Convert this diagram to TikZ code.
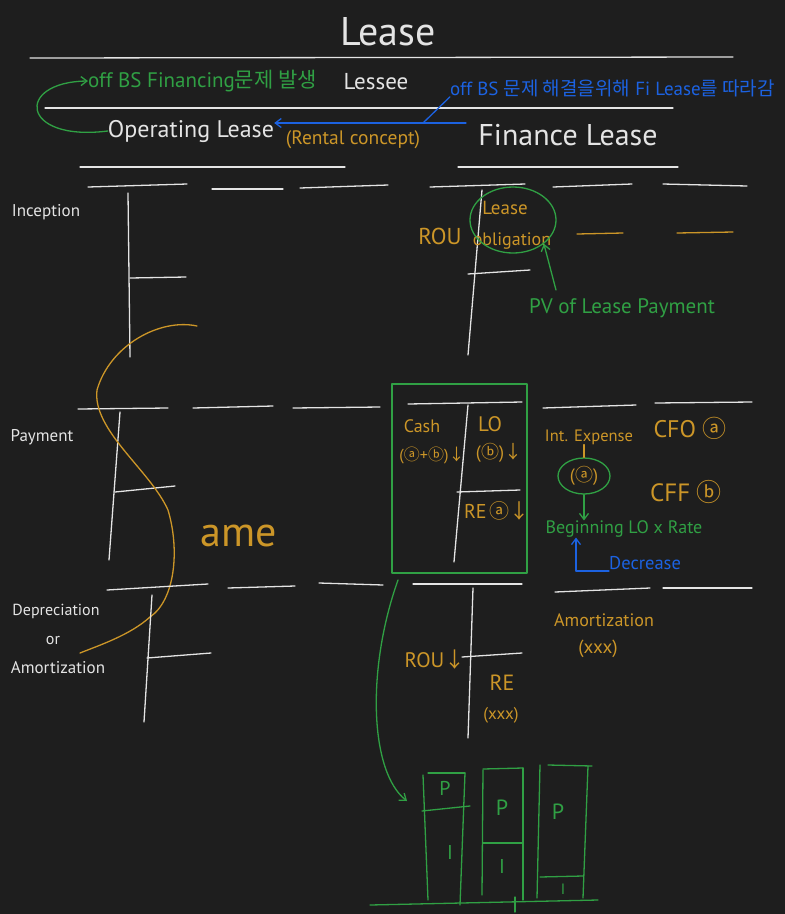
\documentclass[tikz,border=0pt]{standalone}
\usepackage{fontspec}
\setmainfont{PT Sans}
\newfontfamily\kr{Noto Sans CJK KR}
\usetikzlibrary{arrows.meta,shapes.geometric}
\definecolor{bg}{RGB}{30,30,30}
\definecolor{wt}{RGB}{228,228,228}
\definecolor{og}{RGB}{204,150,40}
\definecolor{gn}{RGB}{48,160,68}
\definecolor{bl}{RGB}{28,98,225}
\newcommand\myDown{{\kr ↓}}
\newcommand\circA{{\kr ⓐ}}
\newcommand\circB{{\kr ⓑ}}
\begin{document}
\begin{tikzpicture}[x=1pt,y=-1pt,
  stroke/.style={line width=1.3pt, line cap=round, line join=round},
  wl/.style={stroke, draw=wt},
  ol/.style={stroke, draw=og},
  gl/.style={stroke, draw=gn},
  bll/.style={stroke, draw=bl},
  tip/.style={-{Straight Barb[length=6pt,width=9pt]}},
  fs/.style={font=\fontsize{#1}{#1}\selectfont},
  wtxt/.style={text=wt, inner sep=0pt},
  otxt/.style={text=og, inner sep=0pt},
  gtxt/.style={text=gn, inner sep=0pt},
  btxt/.style={text=bl, inner sep=0pt}]
\fill[bg] (0,0) rectangle (785,914);
\useasboundingbox (0,0) rectangle (785,914);

% ---------- header ----------
\node[wtxt, fs=40] (title) at (388,32) {Lease};
\draw[wl] (30,58) -- (733,57);
\node[gtxt, fs=21, anchor=west] (offbs) at (88,81) {off BS Financing\kr 문제 발생};
\node[wtxt, fs=23] (lessee) at (376,82) {Lessee};
\node[btxt, fs=19, anchor=west] (fix) at (450,88) {off BS {\kr 문제 해결을위해} Fi Lease{\kr 를 따라감}};
\draw[wl] (45,108) -- (673,108);
\node[wtxt, fs=24] (op) at (191,131) {Operating Lease};
\node[otxt, fs=19.5] (rent) at (353,140) {(Rental concept)};
\node[wtxt, fs=30] (fin) at (568,135) {Finance Lease};
\draw[wl] (80,167) -- (345,167);
\draw[wl] (458,167) -- (678,167);

\coordinate (fa) at (466,123);
\coordinate (bmid) at (423,123);
\draw[bll, tip] (fa) -- (op.east |- fa);
\draw[bll] (bmid) -- (fix.south west);
\draw[gl, tip] (op.west) .. controls (20,142) and (15,82) .. (offbs.west);

% ---------- Inception ----------
\node[wtxt, fs=17] (inc) at (46,212) {Inception};
\draw[wl] (88,187) -- (187,184);
\draw[wl] (212,189) -- (283,189);
\draw[wl] (300,188) -- (388,185);
\draw[wl] (128,193) -- (130,357);
\draw[wl] (130,278) -- (186,277);
\draw[wl] (430,187) -- (525,184);
\draw[wl] (553,187) -- (632,184);
\draw[wl] (663,184) -- (747,186);
\draw[wl] (482,190) -- (468,355);
\draw[wl] (468,274) -- (530,270);
\node[otxt, fs=23] (rou1) at (440,236) {ROU};
\node[otxt, fs=19] (lease1) at (505,208) {Lease};
\node[otxt, fs=18] (oblig) at (512,241) {obligation};
\node[draw=gn, line width=1.3pt, ellipse, minimum width=86pt, minimum height=66pt, inner sep=0pt] (loell) at (513,220) {};
\draw[ol] (577,234) -- (623,233);
\draw[ol] (677,233) -- (733,232);
\node[gtxt, fs=21] (pv) at (622,308) {PV of Lease Payment};
\coordinate (pvs) at (556,290);
\draw[gl, tip] (pvs) -- (loell.south east);

% ---------- Payment ----------
\node[wtxt, fs=17] (pay) at (42,437) {Payment};
\draw[wl] (78,409) -- (168,408);
\draw[wl] (193,408) -- (273,406);
\draw[wl] (293,408) -- (380,407);
\draw[wl] (120,412) -- (109,560);
\draw[wl] (115,492) -- (175,486);
\draw[gl] (392,384) rectangle (527,573);
\draw[wl] (408,404) -- (522,402);
\draw[wl] (468,405) -- (454,562);
\draw[wl] (457,492) -- (520,490);
\draw[wl] (543,408) -- (636,405);
\draw[wl] (655,403) -- (752,402);
\node[otxt, fs=18] (cash) at (422,426) {Cash};
\node[otxt, fs=16] (cashab) at (432,455) {(\circA+\circB)\myDown};
\node[otxt, fs=21] (lo) at (490,424) {LO};
\node[otxt, fs=18] (lob) at (499,453) {(\circB)\myDown};
\node[otxt, fs=20] (rea) at (497,511) {RE\,\circA\myDown};
\node[otxt, fs=16.5] (intexp) at (589,437) {Int. Expense};
\node[otxt, fs=24] (cfo) at (690,428) {CFO \circA};
\node[otxt, fs=18] (aa) at (584,476) {(\circA)};
\node[draw=gn, line width=1.3pt, ellipse, minimum width=52pt, minimum height=36pt, inner sep=0pt] (aell) at (584,476) {};
\draw[ol] (intexp.south -| aell.north) -- (aell.north);
\node[gtxt, fs=18] (begin) at (624,529) {Beginning LO x Rate};
\draw[gl, tip] (aell.south) -- (begin.north -| aell.south);
\node[otxt, fs=25] (cff) at (686,492) {CFF \circB};
\node[btxt, fs=18.5, anchor=west] (dec) at (609,563) {Decrease};
\coordinate (decc) at (576,571);
\draw[bll] (dec.west |- decc) -- (decc);
\draw[bll, tip] (decc) -- (begin.south -| decc);

\node[otxt, fs=42] (ame) at (239,536) {ame};
\draw[ol] (197,326) .. controls (160,318) and (110,345) .. (97,390)
  .. controls (92,430) and (150,470) .. (168,510)
  .. controls (180,550) and (175,600) .. (150,617)
  .. controls (130,635) and (100,645) .. (80,653);

% ---------- Depreciation ----------
\node[wtxt, fs=16] (dep) at (56,611) {Depreciation};
\node[wtxt, fs=16] (or) at (53,640) {or};
\node[wtxt, fs=17] (amo) at (58,668) {Amortization};
\draw[wl] (107,590) -- (208,584);
\draw[wl] (228,588) -- (295,586);
\draw[wl] (319,583) -- (383,585);
\draw[wl] (152,595) -- (144,722);
\draw[wl] (147,658) -- (211,653);
\draw[wl] (413,584) -- (522,584);
\draw[wl] (555,592) -- (650,588);
\draw[wl] (663,588) -- (752,588);
\draw[wl] (473,588) -- (468,738);
\draw[wl] (462,657) -- (522,653);
\node[otxt, fs=21] (rou2) at (435,660) {ROU\myDown};
\node[otxt, fs=22] (re2) at (502,683) {RE};
\node[otxt, fs=17] (rexx) at (501,715) {(xxx)};
\node[otxt, fs=18] (amo2) at (604,620) {Amortization};
\node[otxt, fs=19] (amxx) at (598,649) {(xxx)};

% ---------- bars ----------
\coordinate (ga0) at (398,580);
\coordinate (ga1) at (407,801);
\draw[gl, tip] (ga0) .. controls (366,670) and (370,772) .. (ga1);
\draw[gl] (370,905) -- (598,900);
% bar 1
\draw[gl] (423,775) -- (428,900);
\draw[gl] (465,773) -- (460,905);
\draw[gl] (428,773) -- (465,773);
\draw[gl] (422,811) -- (470,806);
\node[gtxt, fs=20] (p1) at (445,788) {P};
\node[gtxt, fs=20] (i1) at (450,852) {I};
% bar 2
\draw[gl] (483,770) -- (482,895);
\draw[gl] (523,768) -- (523,900);
\draw[gl] (483,769) -- (523,768);
\draw[gl] (483,843) -- (523,843);
\draw[gl] (515,897) -- (515,912);
\node[gtxt, fs=22] (p2) at (502,808) {P};
\node[gtxt, fs=20] (i2) at (502,866) {I};
% bar 3
\draw[gl] (540,765) -- (537,898);
\draw[gl] (588,766) -- (583,898);
\draw[gl] (548,765) -- (592,766);
\draw[gl] (540,877) -- (583,876);
\node[gtxt, fs=22] (p3) at (558,812) {P};
\node[gtxt, fs=15] (i3) at (563,889) {I};
\end{tikzpicture}
\end{document}
